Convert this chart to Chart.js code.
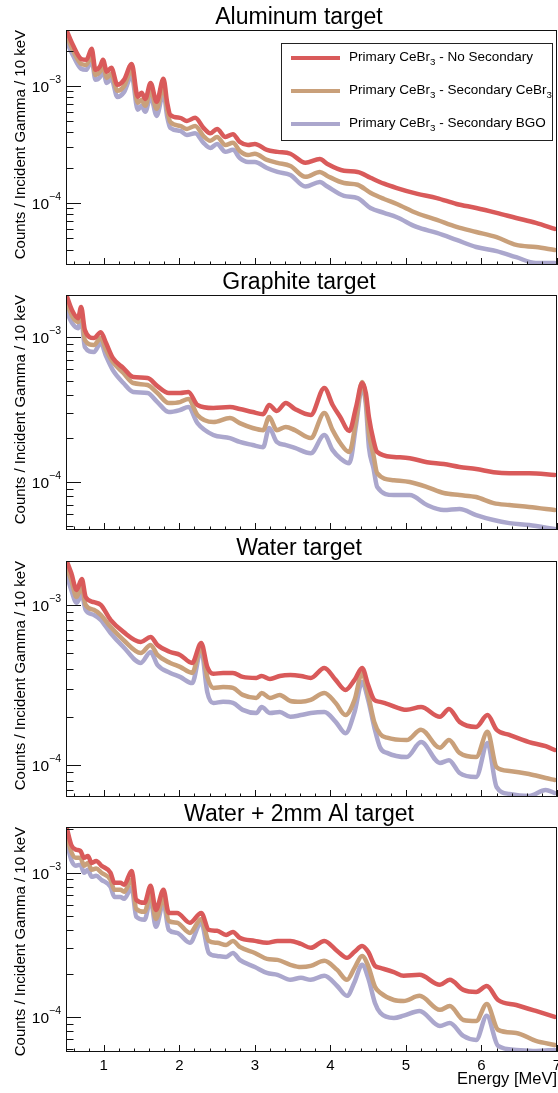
<!DOCTYPE html>
<html lang="en">
<head>
<meta charset="UTF-8">
<title>CeBr3 spectra by target</title>
<script src="https://cdn.jsdelivr.net/npm/chart.js"></script>
<style>
  html, body { margin: 0; padding: 0; background: #fff; }
  #wrap { position: relative; width: 558px; height: 1093px; overflow: hidden; }
  #wrap canvas { position: absolute; left: 0; }
</style>
</head>
<body>
<div id="wrap">
  <canvas id="alChart" width="558" height="268" style="top:0px"></canvas>
  <canvas id="grChart" width="558" height="267" style="top:268px"></canvas>
  <canvas id="waChart" width="558" height="267" style="top:535px"></canvas>
  <canvas id="waAlChart" width="558" height="291" style="top:802px"></canvas>
</div>

<script>
// series names ("_3" marks a subscript)
const seriesNames = [
  'Primary CeBr_3 - No Secondary',
  'Primary CeBr_3 - Secondary CeBr_3',
  'Primary CeBr_3 - Secondary BGO'
];
const seriesColors = ['#d95a5a', '#c9a07a', '#aba7cd'];
const energyTicks = [1, 2, 3, 4, 5, 6, 7];

// Aluminum target
const alEnergy = [0.51,0.59,0.70,0.77,0.84,0.89,0.95,0.99,1.04,1.10,1.18,1.27,1.37,1.45,1.50,1.55,1.62,1.70,1.79,1.84,
  1.88,2.01,2.10,2.21,2.32,2.41,2.50,2.61,2.71,2.80,2.91,3.00,3.16,3.30,3.47,3.67,3.86,3.96,4.18,4.36,
  4.53,4.71,4.88,5.14,5.41,5.67,5.93,6.20,6.46,6.72,6.97];
const alNoSec = [2.95e-3,2.24e-3,1.70e-3,1.67e-3,2.07e-3,1.37e-3,1.46e-3,1.67e-3,1.32e-3,1.43e-3,1.02e-3,1.13e-3,1.54e-3,8.05e-4,8.72e-4,7.74e-4,1.06e-3,7.30e-4,1.15e-3,7.16e-4,
  5.65e-4,5.33e-4,5.02e-4,5.33e-4,4.38e-4,3.93e-4,4.29e-4,3.66e-4,3.87e-4,3.32e-4,3.13e-4,3.19e-4,2.84e-4,2.73e-4,2.63e-4,2.20e-4,2.37e-4,2.15e-4,1.88e-4,1.84e-4,
  1.64e-4,1.46e-4,1.34e-4,1.20e-4,1.10e-4,9.8e-5,9.06e-5,8.23e-5,7.44e-5,6.75e-5,6.0e-5];
const alSecCeBr = [2.68e-3,2.03e-3,1.54e-3,1.51e-3,1.84e-3,1.24e-3,1.32e-3,1.48e-3,1.17e-3,1.27e-3,9.07e-4,1.0e-3,1.37e-3,7.16e-4,7.59e-4,6.75e-4,9.24e-4,6.36e-4,1.0e-3,6.24e-4,
  4.92e-4,4.55e-4,4.29e-4,4.55e-4,3.73e-4,3.39e-4,3.66e-4,3.13e-4,3.26e-4,2.78e-4,2.57e-4,2.63e-4,2.33e-4,2.20e-4,2.07e-4,1.67e-4,1.84e-4,1.70e-4,1.48e-4,1.43e-4,
  1.22e-4,1.08e-4,9.8e-5,8.2e-5,7.16e-5,6.24e-5,5.65e-5,5.1e-5,4.38e-5,4.2e-5,3.96e-5];
const alSecBGO = [2.38e-3,1.84e-3,1.40e-3,1.37e-3,1.67e-3,1.13e-3,1.19e-3,1.34e-3,1.06e-3,1.15e-3,8.05e-4,8.89e-4,1.22e-3,6.24e-4,6.75e-4,6.0e-4,8.2e-4,5.54e-4,8.72e-4,5.44e-4,
  4.38e-4,4.13e-4,3.81e-4,3.93e-4,3.26e-4,2.95e-4,3.19e-4,2.73e-4,2.84e-4,2.42e-4,2.24e-4,2.24e-4,1.99e-4,1.84e-4,1.73e-4,1.38e-4,1.51e-4,1.38e-4,1.15e-4,1.10e-4,
  9.06e-5,8.23e-5,7.55e-5,6.24e-5,5.54e-5,4.83e-5,4.2e-5,3.88e-5,3.44e-5,3.07e-5,3.07e-5];

// Graphite target
const grEnergy = [0.51,0.58,0.66,0.70,0.75,0.87,0.96,1.03,1.12,1.26,1.39,1.58,1.71,1.86,2.01,2.12,2.24,2.45,2.67,2.80,
  2.97,3.11,3.19,3.29,3.41,3.53,3.74,3.92,4.03,4.13,4.25,4.34,4.42,4.47,4.51,4.57,4.62,4.84,5.05,5.28,
  5.50,5.71,5.93,6.16,6.37,6.63,6.97];
const grNoSec = [1.92e-3,1.53e-3,1.35e-3,1.61e-3,1.12e-3,9.84e-4,1.08e-3,9.09e-4,7.17e-4,6.11e-4,5.30e-4,5.22e-4,4.59e-4,4.11e-4,4.11e-4,4.18e-4,3.40e-4,3.24e-4,3.29e-4,3.19e-4,
  3.04e-4,2.94e-4,3.40e-4,3.09e-4,3.51e-4,3.19e-4,2.90e-4,4.45e-4,3.40e-4,2.81e-4,2.25e-4,3.29e-4,4.82e-4,4.11e-4,2.81e-4,1.95e-4,1.61e-4,1.49e-4,1.46e-4,1.37e-4,
  1.33e-4,1.27e-4,1.23e-4,1.17e-4,1.15e-4,1.15e-4,1.12e-4];
const grSecCeBr = [1.74e-3,1.40e-3,1.27e-3,1.53e-3,9.53e-4,8.81e-4,9.84e-4,8.13e-4,6.73e-4,5.65e-4,4.82e-4,4.67e-4,4.11e-4,3.51e-4,3.56e-4,3.74e-4,2.90e-4,2.59e-4,2.76e-4,2.55e-4,
  2.36e-4,2.28e-4,2.81e-4,2.28e-4,2.40e-4,2.28e-4,2.01e-4,2.99e-4,2.28e-4,1.86e-4,1.61e-4,2.68e-4,4.90e-4,3.68e-4,2.18e-4,1.54e-4,1.15e-4,1.03e-4,1.00e-4,9.24e-5,
  8.40e-5,8.13e-5,7.88e-5,7.16e-5,6.94e-5,6.73e-5,6.41e-5];
const grSecBGO = [1.49e-3,1.25e-3,1.15e-3,1.37e-3,8.53e-4,7.88e-4,9.09e-4,7.40e-4,5.92e-4,4.82e-4,4.18e-4,4.11e-4,3.56e-4,3.04e-4,3.14e-4,3.29e-4,2.55e-4,2.11e-4,2.01e-4,1.89e-4,
  1.80e-4,1.74e-4,2.36e-4,1.89e-4,1.80e-4,1.72e-4,1.58e-4,2.11e-4,1.66e-4,1.46e-4,1.35e-4,2.47e-4,4.52e-4,3.40e-4,1.74e-4,1.25e-4,9.24e-5,8.13e-5,8.13e-5,6.94e-5,
  6.41e-5,6.52e-5,5.92e-5,5.47e-5,5.21e-5,5.05e-5,4.74e-5];

// Water target
const waEnergy = [0.51,0.57,0.64,0.71,0.76,0.87,0.96,1.09,1.26,1.49,1.62,1.71,1.88,2.01,2.17,2.29,2.37,2.45,2.58,2.71,
  2.84,3.02,3.09,3.20,3.33,3.47,3.61,3.74,3.92,4.07,4.20,4.32,4.42,4.50,4.58,4.66,4.75,5.01,5.20,5.45,
  5.57,5.71,5.93,6.08,6.20,6.37,6.63,6.85,6.97];
const waNoSec = [1.88e-3,1.58e-3,1.24e-3,1.45e-3,1.12e-3,1.04e-3,1.0e-3,8.06e-4,6.78e-4,5.87e-4,6.31e-4,5.62e-4,5.08e-4,4.87e-4,4.34e-4,5.79e-4,4.10e-4,3.71e-4,3.76e-4,3.76e-4,
  3.55e-4,3.50e-4,3.60e-4,3.45e-4,3.60e-4,3.65e-4,3.60e-4,3.50e-4,4.04e-4,3.40e-4,2.94e-4,3.40e-4,4.04e-4,3.16e-4,2.55e-4,2.48e-4,2.41e-4,2.21e-4,2.30e-4,2.0e-4,
  2.24e-4,1.86e-4,1.73e-4,2.05e-4,1.66e-4,1.54e-4,1.39e-4,1.31e-4,1.24e-4];
const waSecCeBr = [1.70e-3,1.43e-3,1.12e-3,1.30e-3,1.0e-3,9.31e-4,8.66e-4,7.29e-4,6.04e-4,5.01e-4,5.62e-4,4.87e-4,4.34e-4,4.10e-4,3.76e-4,5.46e-4,3.55e-4,3.03e-4,3.07e-4,3.03e-4,
  2.74e-4,2.62e-4,2.82e-4,2.62e-4,2.74e-4,2.51e-4,2.48e-4,2.55e-4,2.82e-4,2.44e-4,2.05e-4,2.55e-4,3.76e-4,2.74e-4,1.86e-4,1.56e-4,1.48e-4,1.43e-4,1.66e-4,1.28e-4,
  1.43e-4,1.19e-4,1.12e-4,1.61e-4,9.7e-5,9.18e-5,8.79e-5,8.29e-5,8.06e-5];
const waSecBGO = [1.54e-3,1.24e-3,1.03e-3,1.155e-3,9.31e-4,8.66e-4,8.06e-4,6.68e-4,5.46e-4,4.34e-4,5.08e-4,4.22e-4,3.76e-4,3.55e-4,3.25e-4,5.23e-4,2.86e-4,2.44e-4,2.48e-4,2.44e-4,
  2.21e-4,2.11e-4,2.30e-4,2.11e-4,2.14e-4,2.0e-4,2.05e-4,2.11e-4,2.14e-4,1.86e-4,1.58e-4,2.14e-4,3.30e-4,2.55e-4,1.73e-4,1.28e-4,1.19e-4,1.12e-4,1.39e-4,1.03e-4,
  1.07e-4,8.91e-5,8.41e-5,1.37e-4,7.29e-5,6.59e-5,6.40e-5,6.98e-5,6.68e-5];

// Water + 2mm Al target
const waAlEnergy = [0.51,0.57,0.63,0.69,0.74,0.79,0.84,0.90,0.97,1.09,1.14,1.22,1.27,1.37,1.43,1.54,1.62,1.69,1.79,1.86,
  1.97,2.14,2.29,2.39,2.50,2.62,2.71,2.80,3.00,3.16,3.30,3.47,3.61,3.74,3.92,4.09,4.22,4.32,4.42,4.50,
  4.59,4.66,4.84,4.97,5.18,5.45,5.58,5.76,5.93,6.07,6.22,6.46,6.72,6.97];
const waAlNoSec = [2.05e-3,1.56e-3,1.45e-3,1.42e-3,1.27e-3,1.31e-3,1.17e-3,1.21e-3,1.12e-3,1.0e-3,8.52e-4,8.52e-4,8.26e-4,1.03e-3,6.49e-4,6.19e-4,8.13e-4,5.53e-4,7.62e-4,5.27e-4,
  5.27e-4,4.50e-4,5.27e-4,4.02e-4,3.96e-4,3.71e-4,3.89e-4,3.54e-4,3.37e-4,3.27e-4,3.37e-4,3.37e-4,3.21e-4,3.02e-4,3.37e-4,2.87e-4,2.57e-4,2.83e-4,3.11e-4,2.83e-4,
  2.26e-4,2.19e-4,2.05e-4,1.93e-4,1.96e-4,1.67e-4,1.81e-4,1.54e-4,1.49e-4,1.64e-4,1.31e-4,1.21e-4,1.10e-4,1.0e-4];
const waAlSecCeBr = [1.84e-3,1.40e-3,1.27e-3,1.27e-3,1.12e-3,1.17e-3,1.05e-3,1.07e-3,1.0e-3,8.94e-4,7.62e-4,7.62e-4,7.38e-4,8.94e-4,5.62e-4,5.36e-4,7.04e-4,4.79e-4,6.70e-4,4.64e-4,
  4.50e-4,3.83e-4,4.79e-4,3.37e-4,3.27e-4,3.16e-4,3.37e-4,3.06e-4,2.78e-4,2.53e-4,2.49e-4,2.30e-4,2.22e-4,2.26e-4,2.45e-4,2.12e-4,1.81e-4,2.19e-4,2.65e-4,2.26e-4,
  1.62e-4,1.47e-4,1.31e-4,1.29e-4,1.40e-4,1.12e-4,1.19e-4,9.53e-5,9.38e-5,1.23e-4,8.13e-5,7.74e-5,6.81e-5,6.39e-5];
const waAlSecBGO = [1.64e-3,1.23e-3,1.12e-3,1.14e-3,1.0e-3,1.05e-3,9.38e-4,9.53e-4,8.94e-4,7.99e-4,6.81e-4,6.81e-4,6.60e-4,7.87e-4,4.95e-4,4.72e-4,6.49e-4,4.22e-4,6.19e-4,4.02e-4,
  3.83e-4,3.27e-4,4.50e-4,2.78e-4,2.65e-4,2.61e-4,2.78e-4,2.49e-4,2.22e-4,2.02e-4,1.96e-4,1.81e-4,1.87e-4,1.81e-4,1.93e-4,1.64e-4,1.40e-4,1.75e-4,2.30e-4,1.87e-4,
  1.25e-4,1.07e-4,9.84e-5,1.02e-4,1.10e-4,8.66e-5,9.08e-5,7.38e-5,6.92e-5,1.02e-4,6.29e-5,5.90e-5,5.81e-5,5.90e-5];

const FONT = '"Liberation Sans", Arial, Helvetica, sans-serif';

// draws text where "_3" becomes a subscript
function drawSubText(ctx, text, x, y, size) {
  const parts = text.split(/_(\d)/);
  let cx = x;
  parts.forEach((p, i) => {
    if (!p) return;
    const sub = i % 2 === 1;
    ctx.font = (sub ? size * 0.72 : size) + 'px ' + FONT;
    ctx.fillText(p, cx, sub ? y + size * 0.38 : y);
    cx += ctx.measureText(p).width;
  });
}

// ROOT-like frame: inward ticks, 10^n labels, pad title and legend
const rootFrame = {
  id: 'rootFrame',
  afterDatasetsDraw(chart, args, opts) {
    const { ctx, chartArea: a, scales: { x, y } } = chart;
    ctx.save();
    ctx.strokeStyle = '#111';
    ctx.fillStyle = '#000';
    ctx.lineWidth = 1;
    ctx.strokeRect(a.left + 0.5, a.top + 0.5, a.right - a.left - 1, a.bottom - a.top - 1);

    ctx.beginPath();
    for (let k = 3; k <= 35; k++) {
      const px = Math.round(x.getPixelForValue(k / 5)) + 0.5;
      const len = k % 5 === 0 ? 7 : 3.5;
      ctx.moveTo(px, a.bottom);
      ctx.lineTo(px, a.bottom - len);
    }
    const decades = [];
    const d0 = Math.floor(Math.log10(y.min)), d1 = Math.ceil(Math.log10(y.max));
    for (let d = d0; d <= d1; d++) {
      for (let m = 1; m <= 9; m++) {
        const v = m * Math.pow(10, d);
        if (v < y.min * 0.999 || v > y.max * 1.001) continue;
        const py = Math.round(y.getPixelForValue(v)) + 0.5;
        ctx.moveTo(a.left, py);
        ctx.lineTo(a.left + (m === 1 ? 15 : 7.5), py);
        if (m === 1) decades.push([d, py]);
      }
    }
    ctx.stroke();

    // decade labels 10^n
    ctx.textBaseline = 'middle';
    ctx.textAlign = 'left';
    decades.forEach(([d, py]) => {
      const exp = '\u2212' + Math.abs(d);
      ctx.font = '10.5px ' + FONT;
      const we = ctx.measureText(exp).width;
      ctx.font = '15.5px ' + FONT;
      const wb = ctx.measureText('10').width;
      const x0 = a.left - 5 - we - wb;
      ctx.fillText('10', x0, py + 1);
      ctx.font = '10.5px ' + FONT;
      ctx.fillText(exp, x0 + wb, py - 6);
    });

    // pad title
    ctx.textAlign = 'center';
    ctx.font = '23px ' + FONT;
    ctx.fillText(opts.title, opts.titleX, a.top - 12);

    if (opts.legend) {
      const b = opts.legend;
      ctx.fillStyle = '#fff';
      ctx.fillRect(b.x, b.y, b.w, b.h);
      ctx.strokeStyle = '#222';
      ctx.strokeRect(b.x + 0.5, b.y + 0.5, b.w, b.h);
      chart.data.datasets.forEach((ds, i) => {
        const ry = b.y + 15 + i * 33;
        ctx.strokeStyle = ds.borderColor;
        ctx.lineWidth = 4;
        ctx.beginPath();
        ctx.moveTo(b.x + 10, ry);
        ctx.lineTo(b.x + 59, ry);
        ctx.stroke();
        ctx.fillStyle = '#000';
        ctx.textAlign = 'left';
        ctx.textBaseline = 'middle';
        drawSubText(ctx, ds.label, b.x + 68, ry - 1, 13.5);
      });
    }
    ctx.restore();
  }
};

function makePanel(id, panel, energy, series) {
  const datasets = series.map((vals, i) => ({
    label: seriesNames[i],
    data: energy.map((e, j) => ({ x: e, y: vals[j] })),
    borderColor: seriesColors[i],
    backgroundColor: seriesColors[i],
    borderWidth: 4.5,
    pointRadius: 0,
    fill: false,
    clip: 0,
    cubicInterpolationMode: 'monotone',
    borderJoinStyle: 'round',
    borderCapStyle: 'round'
  }));
  return new Chart(document.getElementById(id), {
    type: 'line',
    data: { datasets },
    plugins: [rootFrame],
    options: {
      responsive: false,
      animation: false,
      events: [],
      layout: { padding: { top: panel.padTop, right: 1, left: 0, bottom: 0 } },
      plugins: {
        legend: { display: false },
        tooltip: { enabled: false },
        rootFrame: { title: panel.title, titleX: 299, legend: panel.legend || null }
      },
      scales: {
        x: {
          type: 'linear', min: 0.5, max: 7,
          grid: { display: false }, border: { display: false },
          afterBuildTicks: s => { s.ticks = energyTicks.map(v => ({ value: v })); },
          ticks: {
            display: panel.showX, autoSkip: false, maxRotation: 0, padding: -3,
            color: '#000', font: { family: FONT, size: 15 }
          },
          title: {
            display: panel.showX, text: 'Energy [MeV]', align: 'end', color: '#000',
            font: { family: FONT, size: 16.5 }, padding: { top: 0, bottom: 4 }
          },
          afterFit: s => { s.height = panel.axisH; s.paddingLeft = 0; s.paddingRight = 0; }
        },
        y: {
          type: 'logarithmic', min: panel.yMin, max: panel.yMax,
          grid: { display: false }, border: { display: false },
          ticks: { display: false },
          title: {
            display: true, text: 'Counts / Incident Gamma / 10 keV', align: 'end', color: '#000',
            font: { family: FONT, size: 15 }, padding: { top: 12, bottom: 0 }
          },
          afterFit: s => { s.width = 66; s.paddingTop = 0; s.paddingBottom = 0; }
        }
      }
    }
  });
}

makePanel('alChart',
  { title: 'Aluminum target', padTop: 30, axisH: 3, yMin: 2.95e-5, yMax: 3.0e-3, showX: false,
    legend: { x: 281, y: 43, w: 271, h: 97 } },
  alEnergy, [alNoSec, alSecCeBr, alSecBGO]);
makePanel('grChart',
  { title: 'Graphite target', padTop: 27, axisH: 5, yMin: 4.67e-5, yMax: 1.95e-3, showX: false },
  grEnergy, [grNoSec, grSecCeBr, grSecBGO]);
makePanel('waChart',
  { title: 'Water target', padTop: 26, axisH: 5, yMin: 6.31e-5, yMax: 1.88e-3, showX: false },
  waEnergy, [waNoSec, waSecCeBr, waSecBGO]);
makePanel('waAlChart',
  { title: 'Water + 2mm Al target', padTop: 25, axisH: 41, yMin: 5.71e-5, yMax: 2.08e-3, showX: true },
  waAlEnergy, [waAlNoSec, waAlSecCeBr, waAlSecBGO]);
</script>
</body>
</html>
